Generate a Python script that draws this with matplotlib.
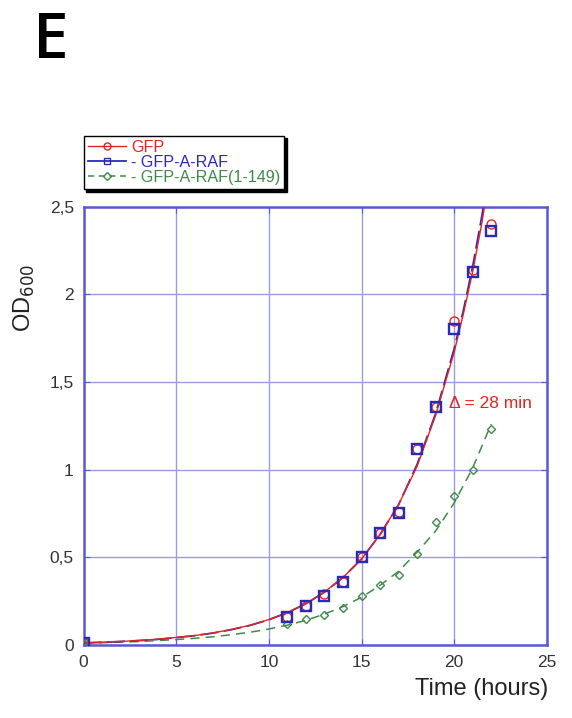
import matplotlib
matplotlib.use("Agg")
import matplotlib.pyplot as plt
from matplotlib.lines import Line2D

plt.rcParams['font.family'] = ['Liberation Sans', 'DejaVu Sans']

# --- data ---
time_h = [0, 11, 12, 13, 14, 15, 16, 17, 18, 19, 20, 21, 22]
od_gfp = [0.01, 0.16, 0.22, 0.29, 0.36, 0.50, 0.64, 0.76, 1.12, 1.36, 1.85, 2.14, 2.40]
od_araf = [0.01, 0.16, 0.22, 0.28, 0.36, 0.50, 0.64, 0.75, 1.12, 1.36, 1.80, 2.13, 2.36]
od_araf149 = [0.01, 0.12, 0.15, 0.17, 0.21, 0.28, 0.34, 0.40, 0.52, 0.70, 0.85, 1.00, 1.23]

# fitted growth curves
fit_t = [0, 1, 2, 3, 4, 5, 6, 7, 8, 9, 10, 11, 12, 13, 14, 15, 16, 17, 18, 19, 20, 20.5, 21, 21.5, 22]
fit_gfp = [0.012, 0.016, 0.020, 0.026, 0.033, 0.043, 0.054, 0.069, 0.089, 0.113, 0.145, 0.185,
           0.236, 0.302, 0.385, 0.49, 0.63, 0.80, 1.02, 1.31, 1.67, 1.89, 2.13, 2.41, 2.74]
fit_araf = [0.012, 0.015, 0.020, 0.025, 0.032, 0.042, 0.053, 0.068, 0.088, 0.112, 0.144, 0.184,
            0.235, 0.301, 0.385, 0.49, 0.63, 0.80, 1.03, 1.32, 1.69, 1.91, 2.16, 2.45, 2.78]
fit_t149 = [0, 1, 2, 3, 4, 5, 6, 7, 8, 9, 10, 11, 12, 13, 14, 15, 16, 17, 18, 19, 20, 21, 22]
fit_araf149 = [0.010, 0.013, 0.016, 0.020, 0.025, 0.031, 0.038, 0.047, 0.059, 0.073, 0.091,
               0.113, 0.141, 0.176, 0.219, 0.272, 0.34, 0.42, 0.53, 0.65, 0.81, 1.01, 1.26]

xticks = [0, 5, 10, 15, 20, 25]
yticks = [0, 0.5, 1, 1.5, 2, 2.5]
yticklabels = ['0', '0,5', '1', '1,5', '2', '2,5']
labels = ['GFP', '- GFP-A-RAF', '- GFP-A-RAF(1-149)']

RED = '#e8231f'
BLUE = '#2a2ab8'
GREEN = '#3f8a4a'
FRAME = '#5a5ad2'
GRID = '#9a9ae6'

fig = plt.figure(figsize=(5.72, 7.18), dpi=100)
ax = fig.add_axes([0.146, 0.1017, 0.810, 0.6104])

ax.plot(fit_t149, fit_araf149, color=GREEN, lw=1.1, ls=(0, (6, 4)), zorder=3)
ax.plot(fit_t, fit_araf, color=BLUE, lw=1.3, ls=(0, (10, 3)), zorder=3)
ax.plot(fit_t, fit_gfp, color=RED, lw=1.0, zorder=4)

ax.plot(time_h, od_araf149, ls='none', marker='D', ms=4.5, mfc='none', mec=GREEN, mew=1.0, zorder=5)
ax.plot(time_h, od_gfp, ls='none', marker='o', ms=6.5, mfc='none', mec=RED, mew=1.0, zorder=5)
ax.plot(time_h, od_araf, ls='none', marker='s', ms=6.5, mfc='none', mec=BLUE, mew=1.7, zorder=6)

ax.set_xlim(0, 25)
ax.set_ylim(0, 2.5)
ax.set_xticks(xticks)
ax.set_xticklabels([str(v) for v in xticks])
ax.set_yticks(yticks)
ax.set_yticklabels(yticklabels)
ax.grid(True, color=GRID, lw=1.0, ls='-')
ax.set_axisbelow(True)
for sp in ax.spines.values():
    sp.set_color(FRAME)
    sp.set_linewidth(1.8)
ax.tick_params(direction='in', length=4, color=FRAME, labelsize=12.5, labelcolor='#333333',
               top=True, right=True, pad=7)

fig.text(0.958, 0.04, 'Time (hours)', ha='right', va='center', fontsize=17, color='#222222')
fig.text(0.042, 0.585, 'OD$_{600}$', rotation=90, ha='center', va='center', fontsize=17, color='#222222')

ax.text(19.7, 1.375, 'Δ = 28 min', color=RED, fontsize=12.5, ha='left', va='center', zorder=7)

fig.text(0.058, 0.942, 'E', fontsize=46, fontweight='semibold', family='Open Sans',
         ha='left', va='center', color='black')

handles = [
    Line2D([], [], color=RED, lw=1.0, marker='o', ms=5, mfc='none', mec=RED),
    Line2D([], [], color=BLUE, lw=1.3, marker='s', ms=5, mfc='none', mec=BLUE),
    Line2D([], [], color=GREEN, lw=1.1, ls=(0, (4, 3)), marker='D', ms=4, mfc='none', mec=GREEN),
]
leg = fig.legend(handles, labels, loc='upper left', bbox_to_anchor=(0.146, 0.811),
                 frameon=True, fancybox=False, shadow={'color': 'black', 'alpha': 1.0},
                 edgecolor='black',
                 fontsize=11.6, handlelength=2.4, handletextpad=0.3, labelspacing=0.0,
                 borderpad=0.25, borderaxespad=0.0)
leg.get_frame().set_linewidth(1.0)
for txt, c in zip(leg.get_texts(), [RED, BLUE, GREEN]):
    txt.set_color(c)

fig.savefig('out.png', dpi=100)
